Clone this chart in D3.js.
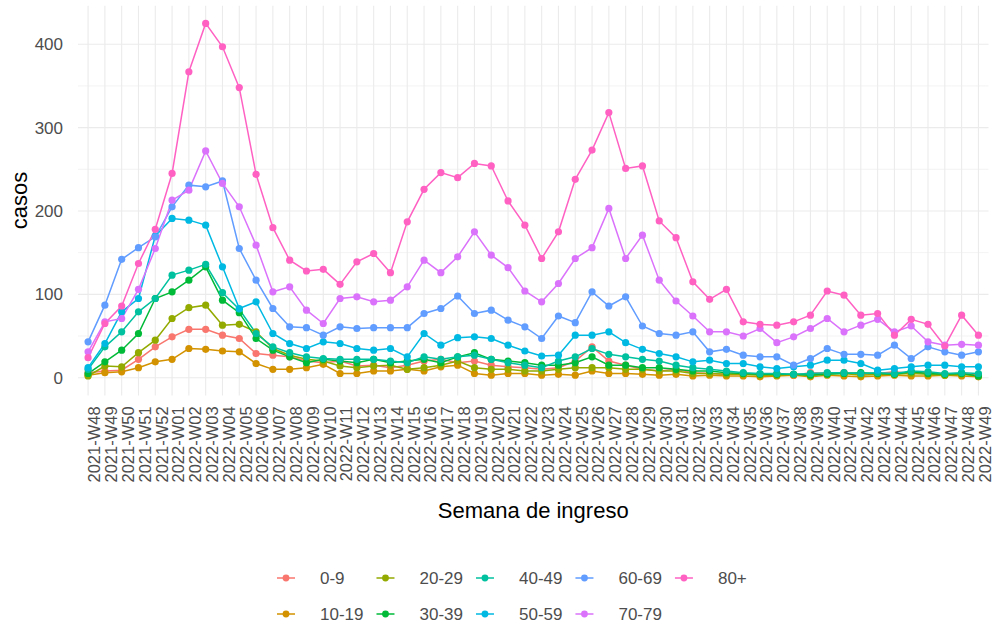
<!DOCTYPE html>
<html><head><meta charset="utf-8">
<script src="https://cdn.jsdelivr.net/npm/d3@7"></script>
<style>body{margin:0;background:#fff}svg{display:block;font-family:"Liberation Sans",Arial,sans-serif}</style>
</head><body><svg id="c" width="997" height="628"></svg>
<script>
const weeks = ["2021-W48","2021-W49","2021-W50","2021-W51","2021-W52"].concat(d3.range(1,50).map(w=>"2022-W"+String(w).padStart(2,"0")));
const groups = ["0-9","10-19","20-29","30-39","40-49","50-59","60-69","70-79","80+"];
const colors = ["#F8766D","#D39200","#93AA00","#00BA38","#00C19F","#00B9E3","#619CFF","#DB72FB","#FF61C3"];
const yTicks = [0,100,200,300,400];
const yMinor = [50,150,250,350];

const s0_9   = [6,8,9,22,37,49,58,58,51,47,29,27,25,20,18,20,14,15,12,15,20,22,18,20,15,13,12,10,12,20,37,20,15,10,8,10,6,5,4,5,4,5,3,6,5,6,4,5,7,5,6,4,5,3];
const s10_19 = [3,6,7,12,19,22,35,34,32,31,17,10,10,12,16,5,5,8,8,10,8,13,15,5,3,5,5,3,4,3,8,5,5,4,3,4,2,3,2,2,1,2,3,1,3,2,1,2,3,2,2,3,2,1];
const s20_29 = [2,14,13,30,45,71,84,87,63,64,55,35,27,22,20,14,12,14,15,10,12,15,20,12,10,10,8,8,10,12,12,12,10,10,8,8,5,5,4,4,3,3,4,3,5,5,3,4,4,5,4,3,4,2];
const s30_39 = [5,19,33,53,95,103,117,133,93,78,47,33,25,18,22,20,18,22,18,20,22,18,25,30,22,20,18,15,15,18,25,15,15,12,12,10,8,8,6,5,4,4,4,3,4,5,6,5,4,7,5,4,5,2];
const s40_49 = [10,37,55,79,95,123,129,136,102,82,53,37,30,25,23,22,22,22,20,18,25,22,25,27,22,18,15,12,20,25,35,28,25,22,20,15,12,10,8,6,5,5,4,5,6,6,5,6,5,8,7,5,6,5];
const s50_59 = [12,41,79,95,170,191,189,183,133,83,91,53,41,35,43,41,35,33,35,25,53,39,48,49,47,39,32,26,27,51,51,55,42,34,29,25,19,21,17,17,13,11,13,15,21,21,17,9,11,13,15,15,13,13];
const s60_69 = [43,87,142,156,169,205,231,229,236,155,117,83,61,60,51,61,59,60,60,60,77,83,98,77,81,69,61,47,74,66,103,86,97,62,53,51,55,31,34,27,25,25,15,23,35,28,28,27,39,23,37,31,27,31];
const s70_79 = [31,67,71,106,155,213,225,272,233,205,159,103,109,81,65,95,97,91,93,109,141,126,145,175,147,132,104,91,113,143,156,203,143,171,117,92,74,55,55,50,59,42,49,59,71,55,63,70,55,62,43,39,40,39];
const s80    = [24,65,86,137,178,245,367,425,397,348,244,180,141,128,130,112,139,149,126,187,226,246,240,257,254,212,183,143,175,238,273,318,251,254,188,168,115,94,106,67,64,63,67,75,104,99,75,77,51,70,64,38,75,51];
const seriesValues = [s0_9,s10_19,s20_29,s30_39,s40_49,s50_59,s60_69,s70_79,s80];

const svg = d3.select("#c");
const panel = {left:78, right:988.5, top:5.7, bottom:395.4};
const x = d3.scalePoint().domain(weeks).range([panel.left, panel.right]).padding(0.6);
const y = d3.scaleLinear().domain([-21.25, 446.25]).range([panel.bottom, panel.top]);
const textCol = "#4D4D4D";

// grid
const g = svg.append("g");
g.selectAll(".ymin").data(yMinor).join("line")
  .attr("x1",panel.left).attr("x2",panel.right).attr("y1",d=>y(d)).attr("y2",d=>y(d))
  .attr("stroke","#EBEBEB").attr("stroke-width",0.6);
g.selectAll(".ymaj").data(yTicks).join("line")
  .attr("x1",panel.left).attr("x2",panel.right).attr("y1",d=>y(d)).attr("y2",d=>y(d))
  .attr("stroke","#EBEBEB").attr("stroke-width",1.1);
g.selectAll(".xmaj").data(weeks).join("line")
  .attr("x1",d=>x(d)).attr("x2",d=>x(d)).attr("y1",panel.top).attr("y2",panel.bottom)
  .attr("stroke","#EBEBEB").attr("stroke-width",1.1);

// axes labels
const yAxis = d3.axisLeft(y).tickValues(yTicks).tickSize(0).tickPadding(15);
const ya = svg.append("g").attr("transform",`translate(${panel.left},0)`).call(yAxis);
ya.select(".domain").remove();
ya.selectAll("text").attr("fill",textCol).style("font-size","17px").style("font-family","'Liberation Sans',Arial,sans-serif");

const xAxis = d3.axisBottom(x).tickSize(0);
const xa = svg.append("g").attr("transform",`translate(0,${panel.bottom})`).call(xAxis);
xa.select(".domain").remove();
xa.selectAll("text")
  .attr("fill",textCol).style("font-size","16.5px").style("font-family","'Liberation Sans',Arial,sans-serif")
  .attr("text-anchor","end").attr("x",-11).attr("y",0).attr("dy","0.72em")
  .attr("transform","rotate(-90)");

svg.append("text").attr("x",(panel.left+panel.right)/2).attr("y",518).attr("text-anchor","middle")
  .style("font-size","22px").attr("fill","#000").text("Semana de ingreso");
svg.append("text").attr("transform",`translate(27,${(panel.top+panel.bottom)/2}) rotate(-90)`).attr("text-anchor","middle")
  .style("font-size","22px").attr("fill","#000").text("casos");

// lines and points
const line = d3.line().x((d,i)=>x(weeks[i])).y(d=>y(d));
const plot = svg.append("g");
seriesValues.forEach((vals,k)=>{
  plot.append("path").attr("d",line(vals)).attr("fill","none").attr("stroke",colors[k]).attr("stroke-width",1.5);
});
seriesValues.forEach((vals,k)=>{
  plot.append("g").selectAll("circle").data(vals).join("circle")
    .attr("cx",(d,i)=>x(weeks[i])).attr("cy",d=>y(d)).attr("r",3.6).attr("fill",colors[k]);
});

// legend: 2 rows, column-major
const leg = svg.append("g");
const rowsY = [578, 614];
let colX = 277;
const nCols = Math.ceil(groups.length/2);
for (let c=0;c<nCols;c++){
  let maxW = 0;
  for (let r=0;r<2;r++){
    const idx = c*2+r; if (idx>=groups.length) continue;
    const gy = rowsY[r];
    leg.append("line").attr("x1",colX).attr("x2",colX+18).attr("y1",gy).attr("y2",gy).attr("stroke",colors[idx]).attr("stroke-width",1.5);
    leg.append("circle").attr("cx",colX+9).attr("cy",gy).attr("r",3.4).attr("fill",colors[idx]);
    const t = leg.append("text").attr("x",colX+43).attr("y",gy).attr("dy","0.35em").style("font-size","17px").attr("fill",textCol).text(groups[idx]);
    maxW = Math.max(maxW, t.node().getComputedTextLength());
  }
  colX = colX + 43 + maxW + 13;
}
</script></body></html>
